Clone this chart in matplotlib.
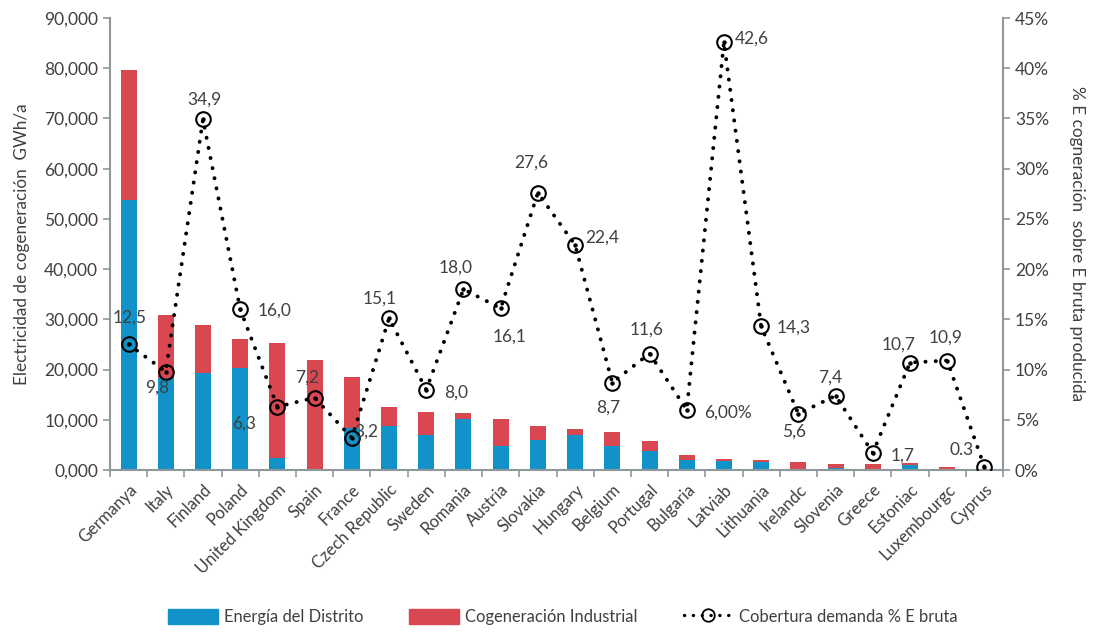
import matplotlib
matplotlib.use("Agg")
import matplotlib.pyplot as plt
from matplotlib.patches import Patch
from matplotlib.lines import Line2D
import numpy as np

plt.rcParams['font.family'] = ['Lato', 'DejaVu Sans']

# data
countries = ["Germanya", "Italy", "Finland", "Poland", "United Kingdom", "Spain",
             "France", "Czech Republic", "Sweden", "Romania", "Austria", "Slovakia",
             "Hungary", "Belgium", "Portugal", "Bulgaria", "Latviab", "Lithuania",
             "Irelandc", "Slovenia", "Greece", "Estoniac", "Luxembourgc", "Cyprus"]
distrito = [53800, 18300, 19300, 20300, 2400, 0, 8400, 8800, 7000, 10100, 4700, 6000,
            7000, 4800, 3700, 2000, 1700, 1500, 0, 400, 0, 900, 0, 0]
total = [79700, 30900, 28900, 26100, 25300, 21900, 18500, 12600, 11600, 11300, 10100, 8800,
         8200, 7600, 5700, 2900, 2100, 1900, 1600, 1200, 1200, 1300, 600, 0]
industrial = [t - d for t, d in zip(total, distrito)]
cobertura = [12.5, 9.8, 34.9, 16.0, 6.3, 7.2, 3.2, 15.1, 8.0, 18.0, 16.1, 27.6,
             22.4, 8.7, 11.6, 6.0, 42.6, 14.3, 5.6, 7.4, 1.7, 10.7, 10.9, 0.3]
point_labels = ["12,5", "9,8", "34,9", "16,0", "6,3", "7,2", "3,2", "15,1", "8,0", "18,0",
                "16,1", "27,6", "22,4", "8,7", "11,6", "6,00%", "42,6", "14,3", "5,6",
                "7,4", "1,7", "10,7", "10,9", "0.3"]
left_ticks = [0, 10000, 20000, 30000, 40000, 50000, 60000, 70000, 80000, 90000]
left_ticklabels = ["0,000", "10,000", "20,000", "30,000", "40,000", "50,000",
                   "60,000", "70,000", "80,000", "90,000"]
right_ticks = [0, 5, 10, 15, 20, 25, 30, 35, 40, 45]

# where each value label sits relative to its point (pixels)
label_offsets = [(1, 27), (-9, -16), (1, 20), (34, -1), (-33, -17), (-7, 20), (14, 6),
                 (-9, 20), (30, -3), (-8, 22), (9, -28), (-7, 30), (27, 7), (-4, -25),
                 (-3, 24), (41, -3), (28, 3), (33, -1), (-4, -18), (-5, 18), (30, -3),
                 (-11, 18), (-2, 23), (-23, 17)]

blue = "#1192C8"
red = "#D94751"
gray = "#8E979C"
txt = "#404040"
dots = (0, (0.05, 2.6))

fig = plt.figure(figsize=(10.93, 6.32), dpi=100)
ax = fig.add_axes([0.1006, 0.2563, 0.8171, 0.7152])
x = np.arange(len(countries))

ax.bar(x, distrito, width=0.43, color=blue, zorder=2)
ax.bar(x, industrial, width=0.43, bottom=distrito, color=red, zorder=2)
ax.set_xlim(-0.5, len(countries) - 0.5)
ax.set_ylim(0, 90000)
ax.set_yticks(left_ticks)
ax.set_yticklabels(left_ticklabels)
ax.set_xticks(x)
ax.set_xticklabels(countries, rotation=45, ha="right", rotation_mode="anchor")
ax.set_xticks(np.arange(-0.5, len(countries)), minor=True)
ax.tick_params(axis="x", which="major", length=0, pad=8, labelsize=12)
ax.tick_params(axis="x", which="minor", length=5, color=gray, width=1.2)
ax.tick_params(axis="y", length=5, color=gray, width=1.2, labelsize=12.5)
ax.tick_params(labelcolor=txt)
for s in ["top", "right"]:
    ax.spines[s].set_visible(False)
for s in ["left", "bottom"]:
    ax.spines[s].set_color(gray)
    ax.spines[s].set_linewidth(1.5)
ax.set_ylabel("Electricidad de cogeneración  GWh/a", fontsize=12.3, color=txt, labelpad=10)

ax2 = ax.twinx()
ax2.set_ylim(0, 45)
ax2.set_yticks(right_ticks)
ax2.set_yticklabels([f"{v}%" for v in right_ticks])
ax2.tick_params(axis="y", length=5, color=gray, width=1.2, labelsize=12.5, labelcolor=txt)
for s in ["top", "left", "bottom"]:
    ax2.spines[s].set_visible(False)
ax2.spines["right"].set_color(gray)
ax2.spines["right"].set_linewidth(1.5)
ax2.set_ylabel("% E cogneración  sobre E bruta producida", fontsize=12.4, color=txt,
               rotation=270, labelpad=26)

ax2.plot(x, cobertura, color="black", lw=2.8, linestyle=dots, dash_capstyle="round",
         marker="o", markersize=10.5, markerfacecolor="none",
         markeredgecolor="black", markeredgewidth=1.5, zorder=3)
ax2.plot(x, cobertura, linestyle="none", marker="o", markersize=2.2, color="black", zorder=4)

for xi, yi, lab, (dx, dy) in zip(x, cobertura, point_labels, label_offsets):
    ax2.annotate(lab, (xi, yi), xytext=(dx, dy), textcoords="offset pixels",
                 ha="center", va="center", fontsize=12.5, color=txt, zorder=5)

handles = [Patch(color=blue), Patch(color=red),
           Line2D([0], [0], color="black", lw=2.4, linestyle=dots, dash_capstyle="round",
                  marker="o", markersize=9, markerfacecolor="none", markeredgewidth=1.3)]
fig.legend(handles, ["Energía del Distrito", "Cogeneración Industrial",
                     "Cobertura demanda % E bruta"],
           loc="center", bbox_to_anchor=(0.515, 0.024), ncol=3, frameon=False,
           fontsize=11.9, handlelength=3.0, handleheight=1.0, columnspacing=2.8,
           handletextpad=0.35, labelcolor=txt)

fig.savefig("out.png", dpi=100)
